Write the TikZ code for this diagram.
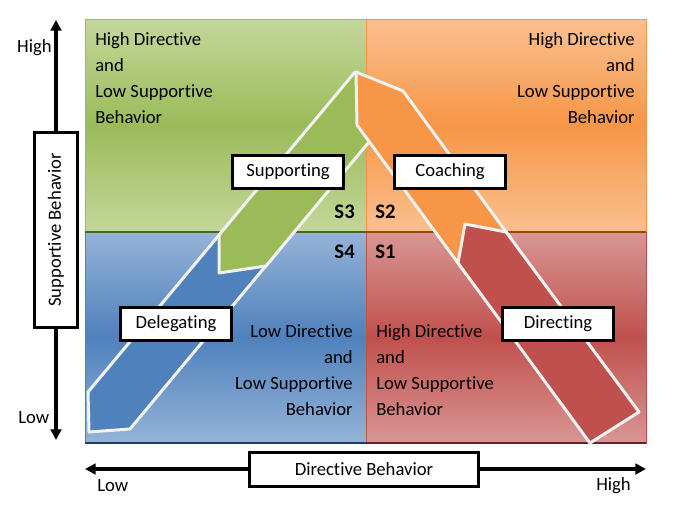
\documentclass[tikz,border=0pt]{standalone}
\usepackage{fontspec}
\setmainfont{Carlito}[Ligatures=NoCommon]
\usetikzlibrary{arrows.meta}
\definecolor{verdeClaro}{HTML}{C4D79B}
\definecolor{verde}{HTML}{9BBB59}
\definecolor{verdeEscuro}{HTML}{4F6228}
\definecolor{laranjaClaro}{HTML}{FAC090}
\definecolor{laranja}{HTML}{F79646}
\definecolor{laranjaEscuro}{HTML}{984807}
\definecolor{azulClaro}{HTML}{95B3D7}
\definecolor{azul}{HTML}{4F81BD}
\definecolor{azulEscuro}{HTML}{1F3E66}
\definecolor{vermelhoClaro}{HTML}{D99694}
\definecolor{vermelho}{HTML}{C0504D}
\definecolor{vermelhoEscuro}{HTML}{632523}
\definecolor{contorno}{HTML}{F2F2F2}
\begin{document}
\begin{tikzpicture}[x=0.75pt,y=-0.75pt,
  seta/.style={draw=contorno,line width=2.25pt,line join=round},
  rotulo/.style={draw=black,line width=2.25pt,fill=white,inner sep=0pt,
    minimum width=83pt,minimum height=24.75pt,font=\fontsize{14}{17}\selectfont},
  eixo/.style={line width=3pt,-{Triangle[length=8pt,width=8pt]}},
  quadtexto/.style={inner sep=0pt,font=\fontsize{14}{19.5}\selectfont},
  estilo/.style={inner sep=0pt,font=\fontsize{15.5}{17}\selectfont\bfseries},
  legenda/.style={inner sep=0pt,font=\fontsize{14}{17}\selectfont}]
  \useasboundingbox (0,0) rectangle (678,514);
  % Quadrantes
  \shade[top color=verdeClaro,bottom color=verdeClaro,middle color=verde] (85,19) rectangle (366,232);
  \shade[top color=laranjaClaro,bottom color=laranjaClaro,middle color=laranja] (366,19) rectangle (646,232);
  \shade[top color=azulClaro,bottom color=azulClaro,middle color=azul] (85,232) rectangle (366,443);
  \shade[top color=vermelhoClaro,bottom color=vermelhoClaro,middle color=vermelho] (366,232) rectangle (646,443);
  \draw[verde] (85,19) rectangle (366,232);
  \draw[laranja] (366,19) rectangle (646,232);
  \draw[azul] (85,232) rectangle (366,443);
  \draw[vermelho] (366,232) rectangle (646,443);
  \draw[line width=2pt,verdeEscuro] (85,232) -- (366,232);
  \draw[line width=2pt,laranjaEscuro] (366,232) -- (646,232);
  \draw[line width=2pt,azulEscuro] (85,443) -- (366,443);
  \draw[line width=2pt,vermelhoEscuro] (366,443) -- (646,443);
  % Textos dos quadrantes
  \node[quadtexto,anchor=north west,align=left] (textoS3) at (95,32) {High Directive\\and\\Low Supportive\\Behavior};
  \node[quadtexto,anchor=north east,align=right] (textoS2) at (635,32) {High Directive\\and\\Low Supportive\\Behavior};
  \node[quadtexto,anchor=north east,align=right] (textoS4) at (353,324) {Low Directive\\and\\Low Supportive\\Behavior};
  \node[quadtexto,anchor=north west,align=left] (textoS1) at (376,324) {High Directive\\and\\Low Supportive\\Behavior};
  % Setas
  \draw[seta,fill=azul] (89,432) -- (88,392) -- (230,222) -- (279,250) -- (130,429) -- cycle;
  \draw[seta,fill=verde] (219,235) -- (355,72) -- (403,101) -- (266,266) -- (219,273) -- cycle;
  \draw[seta,fill=laranja] (356,72) -- (403,91) -- (512,240) -- (466,274) -- (357,125) -- cycle;
  \draw[seta,fill=vermelho] (465,224) -- (506,232) -- (639,412) -- (590,443) -- (458,263) -- cycle;
  % Estilos
  \node[estilo,anchor=base east] (s3) at (355,218) {S3};
  \node[estilo,anchor=base west] (s2) at (375,218) {S2};
  \node[estilo,anchor=base east] (s4) at (355,258) {S4};
  \node[estilo,anchor=base west] (s1) at (375,258) {S1};
  % Rotulos
  \node[rotulo] (supporting) at (288,172) {Supporting};
  \node[rotulo] (coaching) at (450,172) {Coaching};
  \node[rotulo] (delegating) at (176,324) {Delegating};
  \node[rotulo] (directing) at (558,324) {Directing};
  % Eixos
  \node[rotulo,rotate=90,minimum width=146pt,minimum height=32pt] (suporte) at (56,230) {Supportive Behavior};
  \node[rotulo,minimum width=172pt,minimum height=25.5pt] (diretivo) at (364,469) {Directive Behavior};
  \coordinate (topo) at (56,20);
  \coordinate (base) at (56,440);
  \coordinate (esq) at (85,469);
  \coordinate (dir) at (646,469);
  \draw[eixo] (suporte.east) -- (topo);
  \draw[eixo] (suporte.west) -- (base);
  \draw[eixo] (diretivo.west) -- (esq);
  \draw[eixo] (diretivo.east) -- (dir);
  % Legendas
  \node[legenda,anchor=base east] (altoS) at (52,52) {High};
  \node[legenda,anchor=base west] (baixoS) at (18,423) {Low};
  \node[legenda,anchor=base west] (baixoD) at (97,491) {Low};
  \node[legenda,anchor=base west] (altoD) at (596,490) {High};
\end{tikzpicture}
\end{document}
